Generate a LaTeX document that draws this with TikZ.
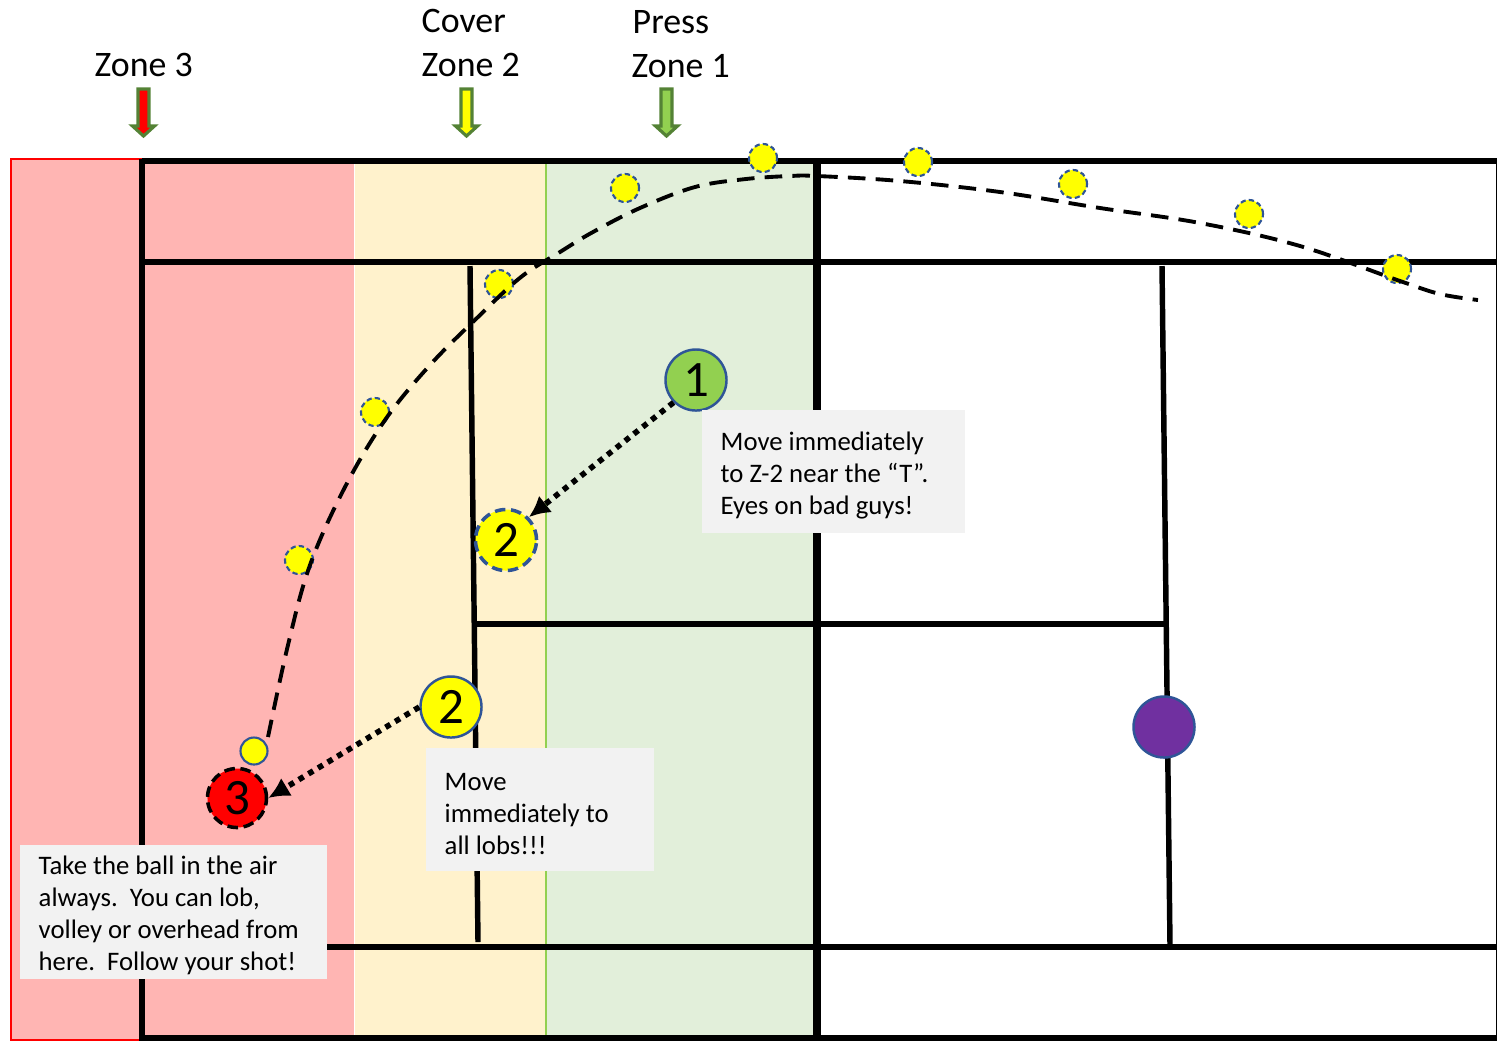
\documentclass[tikz,border=0pt]{standalone}
\usepackage{fontspec}
\setmainfont{Carlito}
\usepackage{xcolor}
\usetikzlibrary{positioning, arrows.meta}
\definecolor{zonered}{HTML}{FFB5B3}
\definecolor{zoneyellow}{HTML}{FFF2CC}
\definecolor{zonegreen}{HTML}{E2EFDA}
\definecolor{limegreen}{HTML}{92D050}
\definecolor{arrowgreen}{HTML}{548235}
\definecolor{ringblue}{HTML}{2F5597}
\definecolor{notegray}{HTML}{F2F2F2}
\definecolor{playerpurple}{HTML}{7030A0}
\definecolor{ballyellow}{HTML}{FFFF00}
\definecolor{ballred}{HTML}{FF0000}
\newcommand{\notestrut}{\rule{0pt}{7.5pt}}
\tikzset{
    courtline/.style={line width=1.55pt},
    netline/.style={line width=2.1pt},
    lobline/.style={line width=1.1pt, dash pattern=on 5pt off 2.9pt},
    moveline/.style={line width=1.6pt, dash pattern=on 1.6pt off 1.6pt, -{Latex[length=6pt,width=6pt]}},
    zonelabel/.style={font=\fontsize{10.2}{12}\selectfont, anchor=west, inner sep=0pt},
    player/.style={circle, minimum size=.61cm, inner sep=0pt, draw=ringblue, line width=.7pt,
        font=\fontsize{14.5}{16}\selectfont},
    ballmark/.style={circle, minimum size=.28cm, inner sep=0pt, fill=ballyellow, draw=ringblue,
        line width=.6pt, dash pattern=on 1.5pt off .9pt},
    notebox/.style={fill=notegray, anchor=north west, align=flush left, inner xsep=.19cm, inner ysep=0pt,
        font=\fontsize{7.6}{9.1}\selectfont},
}
\begin{document}
\begin{tikzpicture}[x=.01cm,y=-.01cm]
    \useasboundingbox (0,0) rectangle (1497,1041);

    \fill[zoneyellow](355,163)rectangle(545,1037);
    \fill[zonegreen](547,163)rectangle(815,1037);
    \draw[limegreen,line width=.8pt](546,163)--(546,1037);
    \fill[zonered](11,159)rectangle(354,1040);
    \draw[ballred,line width=.6pt](354,159)--(11,159)--(11,1040)--(141,1040);

    % court
    \draw[courtline](142,161)--(1497,161);
    \draw[courtline](142,159)--(142,1038)--(1497,1038);
    \draw[courtline](145,262)--(1497,262);
    \draw[courtline](327,947)--(1497,947);
    \draw[courtline](476,624)--(1166,624);
    \draw[courtline](470,266)--(478,942);
    \draw[courtline](1162,266)--(1170,945);
    \draw[netline](817,161)--(817,1038);
    \draw[line width=.3pt](1496.5,161)--(1496.5,1038);

    % zones
    \node[zonelabel] (zonethree) at (94,65) {Zone 3};
    \node[zonelabel] (zonetwo) at (421,65) {Zone 2};
    \node[zonelabel] (zoneone) at (631,66) {Zone 1};
    \node[zonelabel] (cover) at (421,21) {Cover};
    \node[zonelabel] (press) at (632,22) {Press};
    \foreach\X/\C in{143.5/ballred,466.5/ballyellow,666.5/limegreen}
        \draw[draw=arrowgreen,fill=\C,line width=.9pt](\X-5.5,89)--(\X+5.5,89)--(\X+5.5,126)--(\X+11,126)--(\X,136)--(\X-11,126)--(\X-5.5,126)--cycle;

    % ball
    \foreach\P/\Q in{299/560,375/412,499/284,625/188,763/158,918/162,1073/184,1249/214,1397/269}
        \node[ballmark] at(\P,\Q){};
    \coordinate (lobstart) at (268,737);
    \coordinate (lobend) at (1478,300);
    \draw[lobline] plot[smooth,tension=.6] coordinates {(lobstart)(288,645)(310,565)(345,487)(385,420)(430,365)(478,317)(521,277)(560,252)(593,232)(640,208)(695,187)(746,179)(790,176)(817,176)(900,181)(1000,192)(1100,208)(1200,223)(1300,246)(1400,281)(1440,294)(lobend)};
    \node[circle, minimum size=.27cm, inner sep=0pt, fill=ballyellow, draw=ringblue, line width=.6pt] (ballstart) at (254,751) {};

    % players
    \node[player, fill=limegreen] (one) at (696,380) {1};
    \node[player, fill=ballyellow, line width=1pt, dash pattern=on 3pt off 1.6pt] (twoa) at (506,540) {2};
    \node[player, fill=ballyellow] (twob) at (451,707) {2};
    \node[player, fill=ballred, draw=black, line width=1pt, dash pattern=on 3pt off 1.6pt, minimum size=.59cm] (three) at (237,798) {3};
    \node[player, fill=playerpurple] (purple) at (1164,727) {};
    \draw[moveline](one.south west)--(twoa.north east);
    \draw[moveline](twob.west)--(three.east);

    % notes
    \node[notebox, text width=2.25cm, minimum height=1.23cm] (noteone) at (701,409) {\notestrut Move immediately\\to Z-2 near the “T”.\\Eyes on bad guys!};
    \node[notebox, text width=1.90cm, minimum height=1.23cm] (notetwo) at (425,747) {\notestrut Move\\immediately to\\all lobs!!!};
    \node[notebox, text width=2.69cm, minimum height=1.34cm] (notethree) at (19,844) {\notestrut Take the ball in the air\\always.\ \ You can lob,\\volley or overhead from\\here.\ \ Follow your shot!};
\end{tikzpicture}
\end{document}
